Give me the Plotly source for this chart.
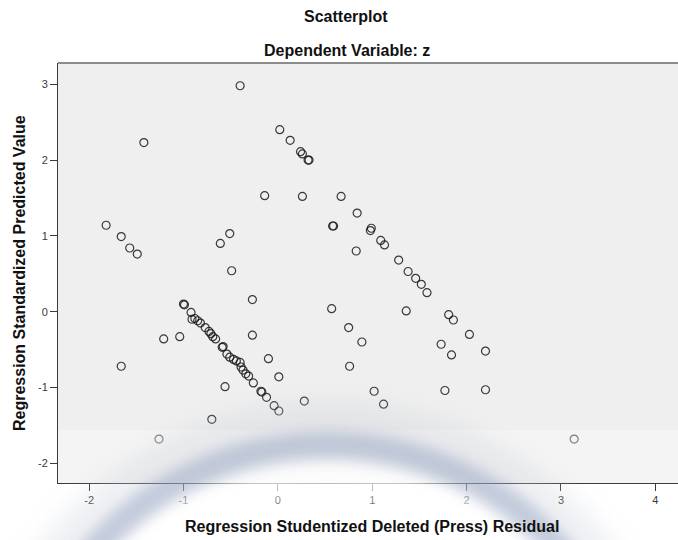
import base64
import plotly.graph_objects as go

# Studentized deleted residuals (x) and standardized predicted values (y)
residual = [
    -0.40, -1.42, 0.02, 0.13, 0.24, 0.26, 0.32, 0.33, -0.14, 0.26,
    0.67, 0.58, 0.59, -1.82, -1.66, -1.57, -1.49, -0.51, -0.61, -0.49,
    0.84, 0.99, 0.98, 1.09, 1.13, 0.83, 1.28, 1.38, 1.46, 1.52,
    1.58, 0.57, 1.36, 0.75, 0.89, 0.76, 1.02, 1.12, 1.81, 1.86,
    2.03, 1.73, 1.84, 2.20, 1.77, 2.20, 3.14, -1.00, -0.99, -0.27,
    -1.21, -1.04, -0.27, -1.66, -0.10, 0.01, -0.56, 0.28, -0.70, -1.26,
    -0.92, -0.91, -0.88, -0.85, -0.82, -0.77, -0.73, -0.71, -0.69, -0.66,
    -0.59, -0.58, -0.54, -0.51, -0.47, -0.44, -0.40, -0.39, -0.37, -0.34,
    -0.31, -0.26, -0.18, -0.17, -0.12, -0.04, 0.01,
]
predicted = [
    2.98, 2.23, 2.40, 2.26, 2.11, 2.08, 2.00, 2.00, 1.53, 1.52,
    1.52, 1.13, 1.13, 1.14, 0.99, 0.84, 0.76, 1.03, 0.90, 0.54,
    1.30, 1.10, 1.07, 0.94, 0.88, 0.80, 0.68, 0.53, 0.44, 0.36,
    0.25, 0.04, 0.01, -0.21, -0.40, -0.72, -1.05, -1.22, -0.04, -0.11,
    -0.30, -0.43, -0.57, -0.52, -1.04, -1.03, -1.68, 0.10, 0.09, 0.16,
    -0.36, -0.33, -0.31, -0.72, -0.62, -0.86, -0.99, -1.18, -1.42, -1.68,
    -0.01, -0.10, -0.09, -0.12, -0.15, -0.21, -0.26, -0.29, -0.33, -0.36,
    -0.47, -0.46, -0.56, -0.60, -0.63, -0.65, -0.67, -0.73, -0.77, -0.82,
    -0.85, -0.94, -1.05, -1.06, -1.13, -1.24, -1.31,
]

x_ticks = [-2, -1, 0, 1, 2, 3, 4]
x_tick_text = ["-2", "-1", "0", "1", "2", "3", "4"]
y_ticks = [-2, -1, 0, 1, 2, 3]
y_tick_text = ["-2", "-1", "0", "1", "2", "3"]

FONT = "Liberation Sans, Arial, sans-serif"

fig = go.Figure(
    go.Scatter(
        x=residual,
        y=predicted,
        mode="markers",
        marker=dict(
            symbol="circle-open",
            size=8,
            color="rgba(25,25,25,0.85)",
            line=dict(width=1.2),
        ),
        hoverinfo="x+y",
    )
)

axis_common = dict(
    showgrid=False,
    zeroline=False,
    showline=True,
    linecolor="#3a3a3a",
    linewidth=1,
    ticks="outside",
    ticklen=7,
    tickwidth=1,
    tickcolor="#3a3a3a",
    tickfont=dict(family=FONT, size=11, color="#3a3a3a"),
)

fig.update_xaxes(
    range=[-2.33, 4.24],
    tickvals=x_ticks,
    ticktext=x_tick_text,
    **axis_common,
)
fig.update_yaxes(
    range=[-2.26, 3.28],
    tickvals=y_ticks,
    ticktext=y_tick_text,
    **axis_common,
)

# faint blurred ring and haze over the lower part of the page
svg = """<svg xmlns="http://www.w3.org/2000/svg" width="678" height="540" viewBox="0 0 678 540">
<defs>
<filter id="b1" x="-30%" y="-30%" width="160%" height="160%"><feGaussianBlur stdDeviation="7"/></filter>
<filter id="b2" x="-30%" y="-30%" width="160%" height="160%"><feGaussianBlur stdDeviation="12"/></filter>
</defs>
<rect x="58" y="430" width="620" height="53" fill="#ffffff" fill-opacity="0.35"/>
<circle cx="327" cy="757" r="280" fill="none" stroke="#ffffff" stroke-width="36" stroke-opacity="0.8" filter="url(#b2)"/>
<circle cx="327" cy="757" r="340" fill="none" stroke="rgb(200,205,215)" stroke-width="30" stroke-opacity="0.35" filter="url(#b2)"/>
<circle cx="327" cy="757" r="312" fill="none" stroke="rgb(150,162,192)" stroke-width="28" stroke-opacity="0.55" filter="url(#b1)"/>
</svg>"""
svg_uri = "data:image/svg+xml;base64," + base64.b64encode(svg.encode()).decode()

W, H = 678, 540
L, R, T, B = 58, 0, 63, 57
pw, ph = W - L - R, H - T - B

fig.add_layout_image(
    source=svg_uri,
    xref="paper", yref="paper",
    x=-L / pw, y=1 + T / ph,
    sizex=W / pw, sizey=H / ph,
    xanchor="left", yanchor="top",
    sizing="stretch",
    layer="above",
)

# grey frame line along the top of the plot area
fig.add_shape(
    type="line", xref="paper", yref="paper",
    x0=0, x1=1, y0=1, y1=1,
    line=dict(color="#8c8c8c", width=2),
)

title_font = dict(family=FONT, size=16, color="#111111")
annotations = [
    dict(text="<b>Scatterplot</b>", x=(346 - L) / pw, y=(H - B - 17) / ph,
         xref="paper", yref="paper", showarrow=False,
         xanchor="center", yanchor="middle", font=title_font),
    dict(text="<b>Dependent Variable: z</b>", x=(347 - L) / pw, y=(H - B - 50) / ph,
         xref="paper", yref="paper", showarrow=False,
         xanchor="center", yanchor="middle", font=title_font),
    dict(text="<b>Regression Studentized Deleted (Press) Residual</b>",
         x=(372.5 - L) / pw, y=(H - B - 526) / ph,
         xref="paper", yref="paper", showarrow=False,
         xanchor="center", yanchor="middle", font=title_font),
    dict(text="<b>Regression Standardized Predicted Value</b>",
         x=(19 - L) / pw, y=0.5, textangle=-90,
         xref="paper", yref="paper", showarrow=False,
         xanchor="center", yanchor="middle", font=title_font),
]

fig.update_layout(
    width=W,
    height=H,
    margin=dict(l=L, r=R, t=T, b=B),
    paper_bgcolor="#ffffff",
    plot_bgcolor="#efefef",
    showlegend=False,
    annotations=annotations,
)

fig.write_html("out.html")
